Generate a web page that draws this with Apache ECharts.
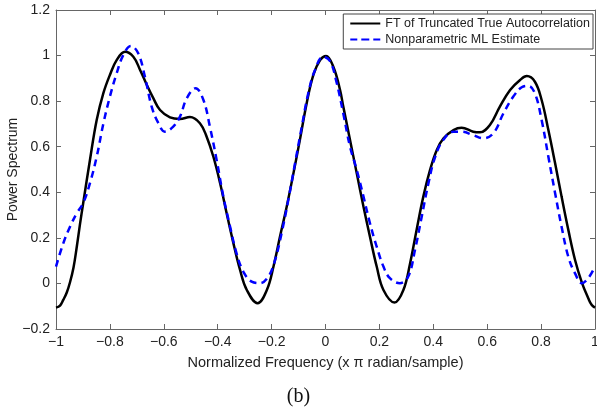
<!DOCTYPE html>
<html><head><meta charset="utf-8">
<script src="https://cdn.jsdelivr.net/npm/echarts@6/dist/echarts.min.js"></script>
<style>html,body{margin:0;padding:0;background:#fff}#c{width:597px;height:413px}</style>
</head><body><div id="c"></div>
<script>
const seriesNames = ['FT of Truncated True Autocorrelation', 'Nonparametric ML Estimate'];
const xTicks = [-1, -0.8, -0.6, -0.4, -0.2, 0, 0.2, 0.4, 0.6, 0.8, 1];
const yTicks = [-0.2, 0, 0.2, 0.4, 0.6, 0.8, 1, 1.2];

const trueFreq = [-1, -0.985, -0.973, -0.96, -0.948, -0.935, -0.923, -0.911, -0.899, -0.874, -0.849, -0.824, -0.8, -0.775, -0.744, -0.713, -0.688, -0.663, -0.639, -0.614, -0.577, -0.54, -0.503, -0.466, -0.441, -0.416, -0.391, -0.367, -0.342, -0.317, -0.292, -0.252, -0.218, -0.193, -0.169, -0.144, -0.119, -0.095, -0.07, -0.045, -0.02, 0.002, 0.029, 0.054, 0.066, 0.091, 0.116, 0.141, 0.165, 0.19, 0.215, 0.256, 0.289, 0.314, 0.338, 0.363, 0.388, 0.413, 0.438, 0.475, 0.505, 0.548, 0.573, 0.61, 0.647, 0.685, 0.722, 0.747, 0.777, 0.802, 0.827, 0.852, 0.876, 0.901, 0.926, 0.951, 0.975, 0.988, 1];
const trueVals = [-0.106, -0.097, -0.072, -0.04, 0.005, 0.07, 0.16, 0.26, 0.353, 0.542, 0.717, 0.836, 0.915, 0.98, 1.017, 0.995, 0.937, 0.871, 0.813, 0.761, 0.729, 0.722, 0.73, 0.703, 0.644, 0.556, 0.44, 0.309, 0.178, 0.059, -0.029, -0.087, -0.03, 0.074, 0.205, 0.337, 0.483, 0.63, 0.79, 0.915, 0.98, 0.998, 0.951, 0.849, 0.776, 0.63, 0.483, 0.337, 0.205, 0.074, -0.029, -0.084, -0.029, 0.089, 0.235, 0.381, 0.498, 0.586, 0.637, 0.673, 0.683, 0.666, 0.663, 0.695, 0.776, 0.849, 0.893, 0.91, 0.885, 0.805, 0.673, 0.527, 0.381, 0.235, 0.103, 0.005, -0.065, -0.095, -0.106];

const mlFreq = [-1, -0.973, -0.948, -0.923, -0.899, -0.874, -0.849, -0.824, -0.8, -0.775, -0.75, -0.722, -0.695, -0.67, -0.645, -0.62, -0.596, -0.565, -0.54, -0.515, -0.482, -0.453, -0.429, -0.404, -0.379, -0.354, -0.33, -0.305, -0.274, -0.243, -0.212, -0.187, -0.163, -0.138, -0.113, -0.088, -0.064, -0.039, -0.008, 0.017, 0.04, 0.066, 0.091, 0.116, 0.141, 0.165, 0.19, 0.215, 0.239, 0.276, 0.307, 0.332, 0.357, 0.382, 0.407, 0.437, 0.475, 0.505, 0.548, 0.585, 0.623, 0.66, 0.697, 0.728, 0.753, 0.777, 0.802, 0.827, 0.852, 0.876, 0.901, 0.926, 0.951, 0.975, 1];
const mlVals = [0.074, 0.176, 0.249, 0.308, 0.353, 0.44, 0.556, 0.703, 0.82, 0.922, 1.003, 1.042, 1.01, 0.907, 0.776, 0.703, 0.666, 0.688, 0.732, 0.812, 0.857, 0.805, 0.688, 0.542, 0.381, 0.249, 0.132, 0.052, 0.008, 0.001, 0.03, 0.103, 0.22, 0.366, 0.527, 0.688, 0.834, 0.937, 0.995, 0.975, 0.888, 0.746, 0.6, 0.498, 0.381, 0.264, 0.161, 0.074, 0.023, 0.001, 0.03, 0.147, 0.293, 0.44, 0.556, 0.63, 0.666, 0.666, 0.651, 0.637, 0.659, 0.746, 0.82, 0.861, 0.867, 0.834, 0.717, 0.556, 0.396, 0.249, 0.117, 0.044, 0.001, 0.023, 0.074];

const zip = (a, b) => a.map((v, i) => [v, b[i]]);
const fmt = v => (v < 0 ? '\u2212' : '') + String(Math.abs(Math.round(v * 10) / 10));
const font = '"Liberation Sans", Arial, sans-serif';
const axisCol = '#666';
const txtCol = '#222';

const chart = echarts.init(document.getElementById('c'), null, {renderer: 'canvas'});
const xBase = {type: 'value', min: -1, max: 1, interval: 0.2,
  axisLine: {show: true, onZero: false, lineStyle: {color: axisCol, width: 1}},
  axisTick: {show: true, inside: true, length: 5, lineStyle: {color: axisCol}},
  splitLine: {show: false}};
const yBase = {type: 'value', min: -0.2, max: 1.2, interval: 0.2,
  axisLine: {show: true, onZero: false, lineStyle: {color: axisCol, width: 1}},
  axisTick: {show: true, inside: true, length: 5, lineStyle: {color: axisCol}},
  splitLine: {show: false}};

chart.setOption({
  animation: false,
  backgroundColor: '#fff',
  grid: {left: 56, right: 2, top: 10, bottom: 84, containLabel: false, outerBoundsMode: 'none'},
  xAxis: [
    Object.assign({}, xBase, {position: 'bottom',
      axisLabel: {show: true, fontSize: 14, fontFamily: font, color: txtCol, margin: 6,
        formatter: v => xTicks.some(t => Math.abs(t - v) < 1e-9) ? fmt(v) : ''},
      name: 'Normalized Frequency (x \u03c0 radian/sample)', nameLocation: 'middle', nameGap: 26,
      nameMoveOverlap: false,
      nameTextStyle: {fontSize: 14.5, fontFamily: font, color: txtCol}}),
    Object.assign({}, xBase, {position: 'top', axisLabel: {show: false}})
  ],
  yAxis: [
    Object.assign({}, yBase, {position: 'left',
      axisLabel: {show: true, fontSize: 14, fontFamily: font, color: txtCol, margin: 6,
        formatter: v => yTicks.some(t => Math.abs(t - v) < 1e-9) ? fmt(v) : ''},
      name: 'Power Spectrum', nameLocation: 'middle', nameGap: 36, nameRotate: 90,
      nameMoveOverlap: false,
      nameTextStyle: {fontSize: 14, fontFamily: font, color: txtCol}}),
    Object.assign({}, yBase, {position: 'right', axisLabel: {show: false}})
  ],
  legend: {
    right: 4, top: 14, orient: 'vertical',
    backgroundColor: '#fff', borderColor: '#444', borderWidth: 1,
    padding: [3, 3, 3, 7], itemGap: 3, itemWidth: 30, itemHeight: 12,
    textStyle: {fontSize: 12.5, fontFamily: font, color: txtCol, padding: [0, 0, 0, 0]},
    data: [
      {name: seriesNames[0], icon: 'path://M0,5 L30,5 L30,7 L0,7 Z', itemStyle: {color: '#000'}},
      {name: seriesNames[1], icon: 'path://M0,5 L7,5 L7,7 L0,7 Z M11,5 L19,5 L19,7 L11,7 Z M23,5 L30,5 L30,7 L23,7 Z', itemStyle: {color: '#0000ff'}}
    ]
  },
  series: [
    {name: seriesNames[0], type: 'line', data: zip(trueFreq, trueVals), smooth: 0.4,
      showSymbol: false, symbol: 'none', clip: true,
      lineStyle: {color: '#000', width: 2.5}, itemStyle: {color: '#000'}, z: 3},
    {name: seriesNames[1], type: 'line', data: zip(mlFreq, mlVals), smooth: 0.4,
      showSymbol: false, symbol: 'none', clip: true,
      lineStyle: {color: '#0000ff', width: 2.5, type: [7, 5]}, itemStyle: {color: '#0000ff'}, z: 4}
  ],
  graphic: [
    {type: 'text', left: 'center', top: 387,
      style: {text: '(b)', fontSize: 20, fontFamily: '"Liberation Serif", "Times New Roman", serif', fill: '#111'}}
  ]
});
</script></body></html>
